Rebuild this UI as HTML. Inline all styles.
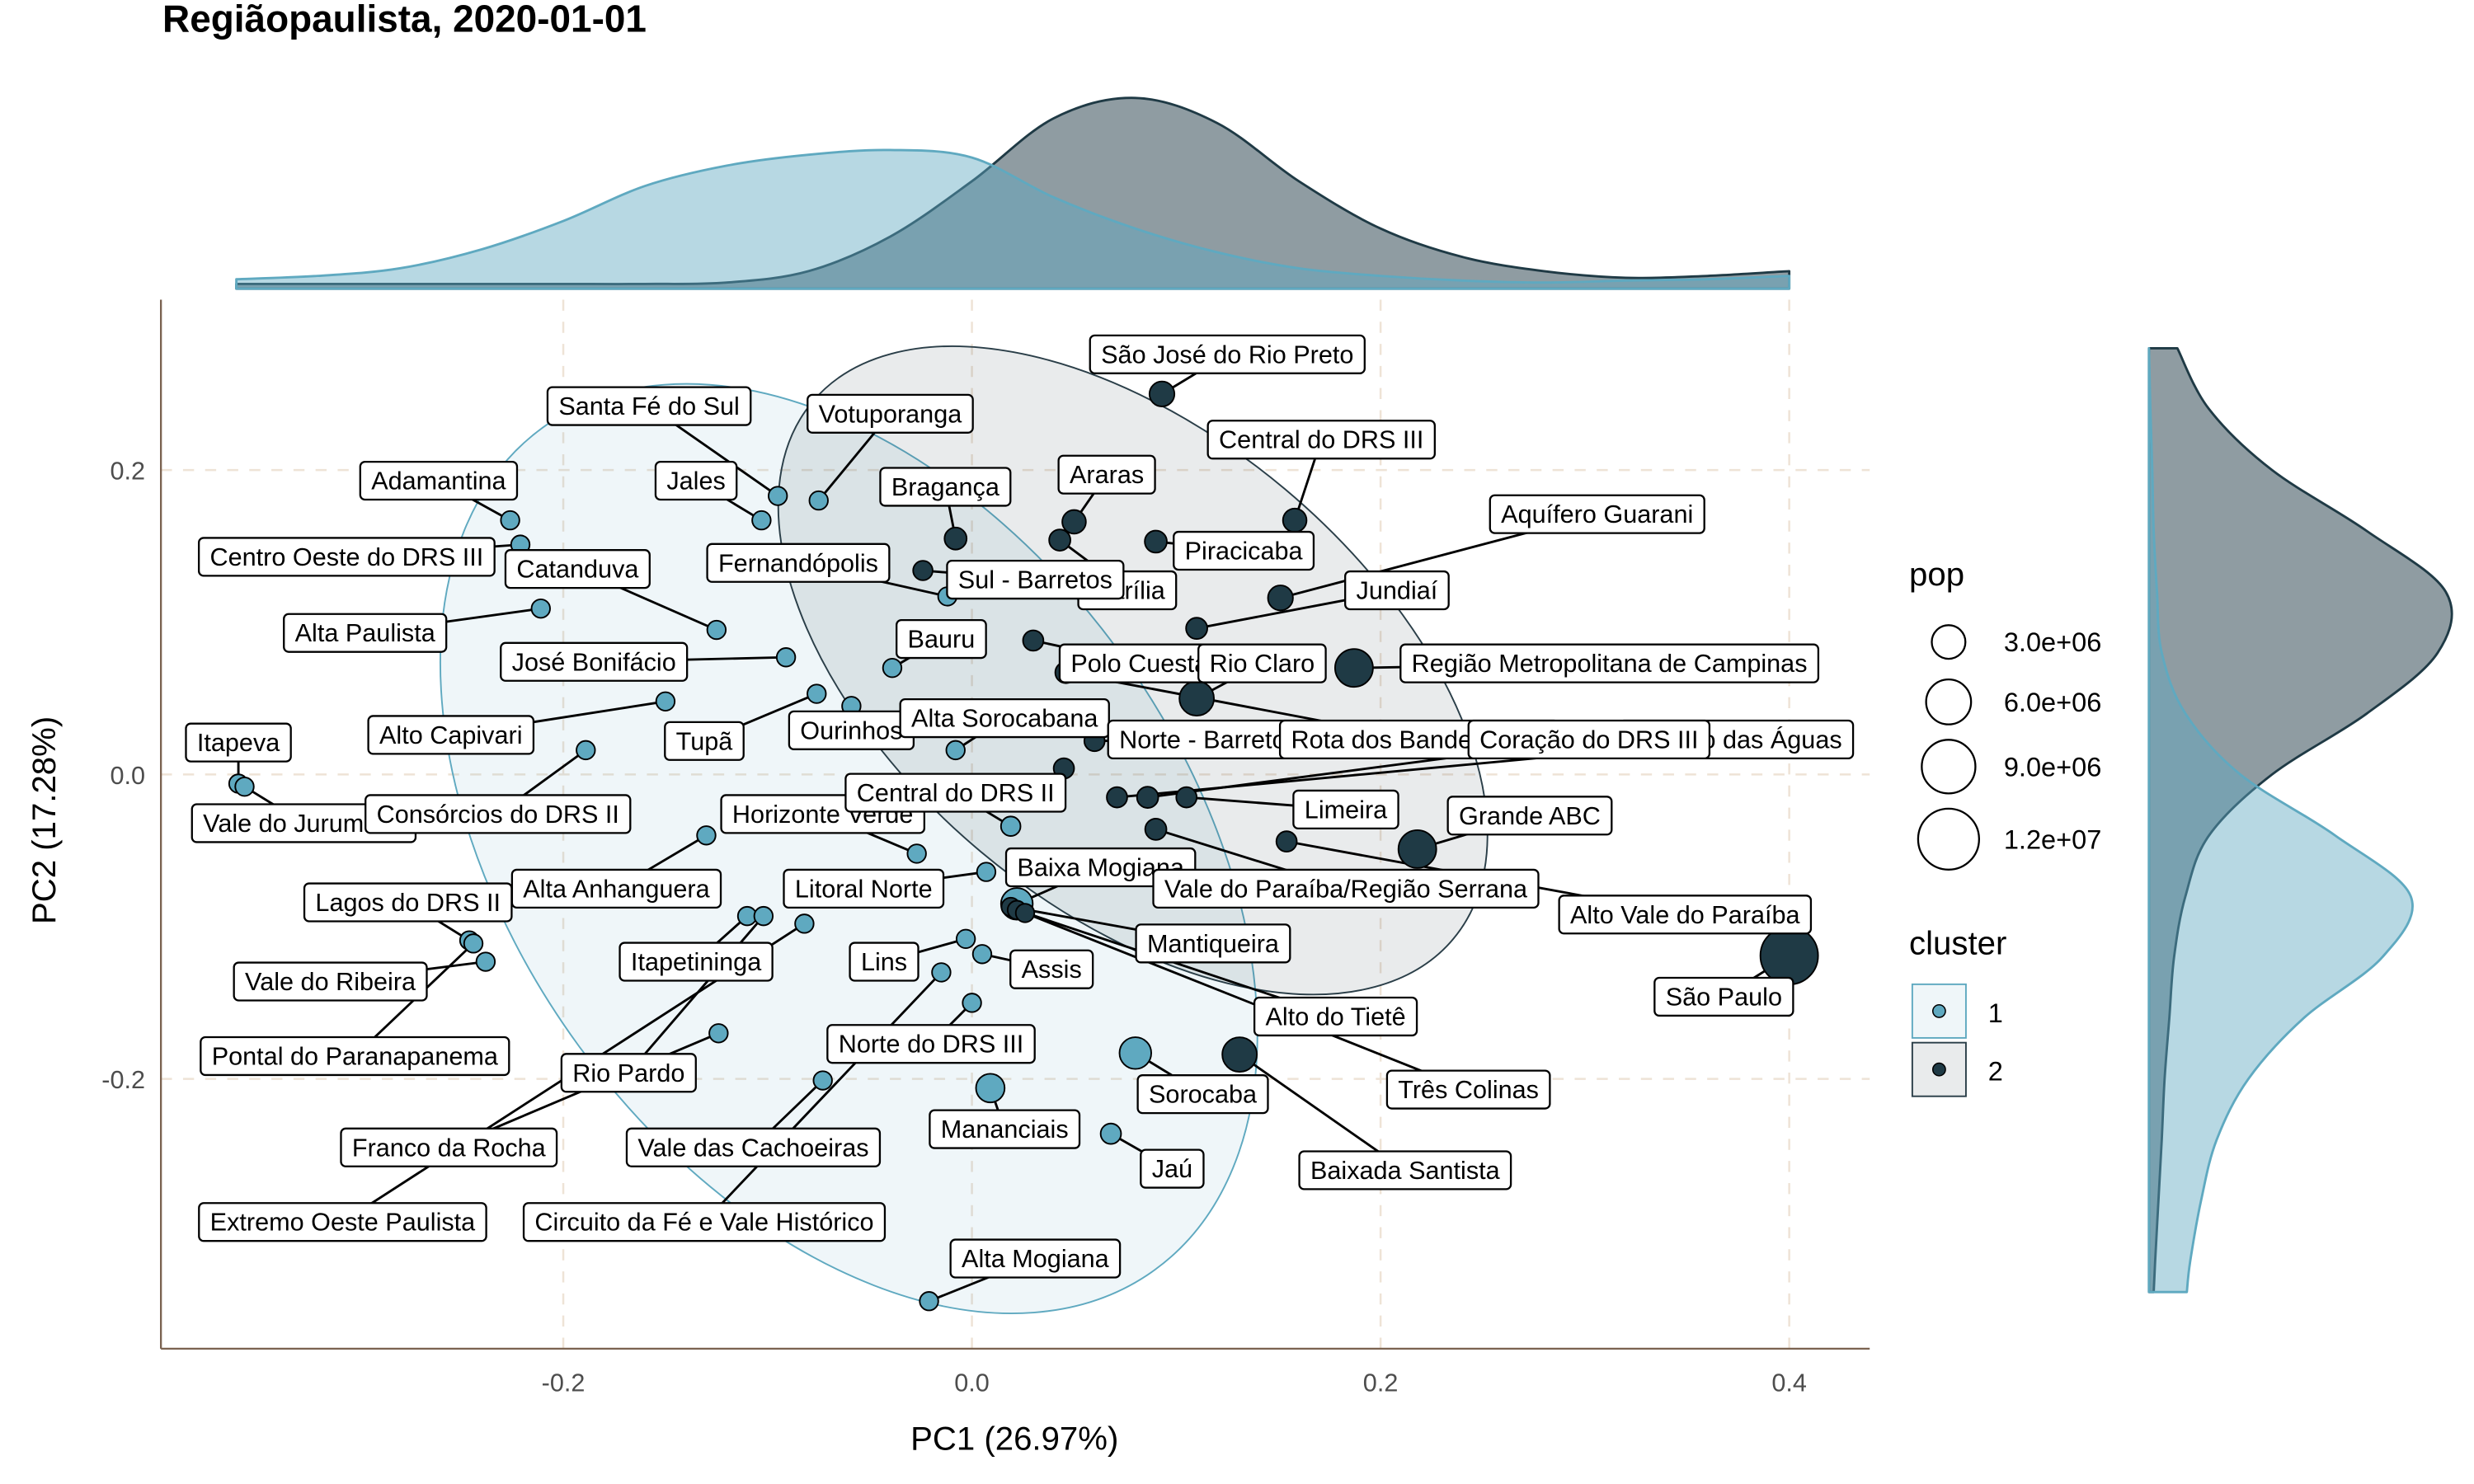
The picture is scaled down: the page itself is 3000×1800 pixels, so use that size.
<!DOCTYPE html>
<html><head><meta charset="utf-8"><style>
html,body{margin:0;padding:0;background:#fff;}
svg{display:block;font-family:"Liberation Sans",Arial,sans-serif;}
</style></head><body>
<svg id="chart" width="3000" height="1800" viewBox="0 0 1568 940.8" preserveAspectRatio="none" xmlns="http://www.w3.org/2000/svg">
<text x="103" y="20" font-size="24" font-weight="bold" fill="#000">Regiãopaulista, 2020-01-01</text>
<g id="topDens"></g>
<g id="rightDens"></g>
<g id="grid"></g>
<g id="ell">
<ellipse cx="538" cy="538" rx="330" ry="212" transform="rotate(54 538 538)" fill="rgba(95,169,192,0.1)" stroke="#5fa9c0" stroke-width="1"/>
<ellipse cx="718" cy="425" rx="265" ry="150" transform="rotate(40 718 425)" fill="rgba(38,55,65,0.1)" stroke="#2a3e48" stroke-width="1"/>
</g>
<g id="segs"></g>
<g id="pts"></g>
<g id="labs"></g>
<g id="axes">
<line x1="102" y1="190" x2="102" y2="855" stroke="#7a6250" stroke-width="1.2"/>
<line x1="102" y1="855" x2="1185" y2="855" stroke="#7a6250" stroke-width="1.2"/>
</g>
<text x="643" y="919" font-size="21" text-anchor="middle">PC1 (26.97%)</text>
<text transform="translate(35,520) rotate(-90)" font-size="21" text-anchor="middle">PC2 (17.28%)</text>
<g>
<text x="1210" y="371" font-size="21">pop</text>
<g id="popLeg"></g>
<text x="1210" y="605" font-size="21">cluster</text>
<rect x="1212" y="624" width="34" height="34" fill="rgba(95,169,192,0.1)" stroke="#5fa9c0"/>
<circle cx="1229" cy="641" r="4" fill="#5fa9c0" stroke="#000" stroke-width="0.8"/>
<text x="1260" y="648" font-size="17">1</text>
<rect x="1212" y="661" width="34" height="34" fill="rgba(38,55,65,0.1)" stroke="#2a3e48"/>
<circle cx="1229" cy="678" r="4" fill="#1f3a45" stroke="#000" stroke-width="0.8"/>
<text x="1260" y="685" font-size="17">2</text>
</g>
</svg>
<script>
const names=["Itapeva","Vale do Jurumirim","Adamantina","Centro Oeste do DRS III","Catanduva","Alta Paulista","José Bonifácio","Alto Capivari","Tupã","Ourinhos","Consórcios do DRS II","Santa Fé do Sul","Jales","Votuporanga","Bauru","Alta Sorocabana","Horizonte Verde","Central do DRS II","Alta Anhanguera","Lagos do DRS II","Litoral Norte","Vale do Ribeira","Itapetininga","Pontal do Paranapanema","Rio Pardo","Franco da Rocha","Vale das Cachoeiras","Extremo Oeste Paulista","Circuito da Fé e Vale Histórico","Lins","Assis","Norte do DRS III","Mananciais","Jaú","Sorocaba","Alta Mogiana","Baixa Mogiana","Fernandópolis",
"São José do Rio Preto","Central do DRS III","Araras","Bragança","Piracicaba","Aquífero Guarani","Jundiaí","Marília","Sul - Barretos","Região Metropolitana de Campinas","Polo Cuesta","Rio Claro","Norte - Barretos","Rota dos Bandeirantes","Circuito das Águas","Coração do DRS III","Limeira","Grande ABC","Vale do Paraíba/Região Serrana","Alto Vale do Paraíba","São Paulo","Mantiqueira","Alto do Tietê","Três Colinas","Baixada Santista",""];
const pc1=[-0.359,-0.356,-0.226,-0.221,-0.125,-0.211,-0.091,-0.150,-0.076,-0.059,-0.189,-0.095,-0.103,-0.075,-0.039,-0.008,-0.027,0.019,-0.130,-0.246,0.007,-0.238,-0.110,-0.244,-0.102,-0.124,-0.073,-0.082,-0.015,-0.003,0.005,0.000,0.009,0.068,0.080,-0.021,0.022,-0.012,
0.093,0.158,0.050,-0.008,0.090,0.151,0.110,0.043,-0.024,0.187,0.030,0.110,0.060,0.046,0.071,0.086,0.105,0.218,0.090,0.154,0.400,0.019,0.022,0.026,0.131,0.045];
const pc2=[-0.006,-0.008,0.167,0.151,0.095,0.109,0.077,0.048,0.053,0.045,0.016,0.183,0.167,0.180,0.070,0.016,-0.052,-0.034,-0.040,-0.109,-0.064,-0.123,-0.093,-0.111,-0.093,-0.170,-0.201,-0.098,-0.130,-0.108,-0.118,-0.150,-0.206,-0.236,-0.183,-0.346,-0.085,0.117,
0.250,0.167,0.166,0.155,0.153,0.116,0.096,0.154,0.134,0.070,0.088,0.050,0.022,0.067,-0.015,-0.015,-0.015,-0.049,-0.036,-0.044,-0.119,-0.087,-0.089,-0.091,-0.184,0.004];
const cluster=[1,1,1,1,1,1,1,1,1,1,1,1,1,1,1,1,1,1,1,1,1,1,1,1,1,1,1,1,1,1,1,1,1,1,1,1,1,1,
2,2,2,2,2,2,2,2,2,2,2,2,2,2,2,2,2,2,2,2,2,2,2,2,2,2];
const pop=[0.6,0.6,0.6,0.6,0.6,0.6,0.6,0.6,0.6,0.6,0.6,0.6,0.6,0.6,0.6,0.6,0.6,0.7,0.6,0.6,0.6,0.6,0.6,0.6,0.6,0.6,0.6,0.6,0.6,0.6,0.6,0.6,2.0,0.8,2.6,0.6,2.6,0.6,
1.4,1.2,1.2,1.0,1.0,1.4,0.9,0.9,0.7,4.0,0.8,3.2,0.8,0.9,0.8,0.9,0.8,4.0,0.9,0.8,10.6,0.6,0.6,0.6,3.2,0.8];
const labPc1=[-0.359,-0.327,-0.261,-0.306,-0.193,-0.297,-0.185,-0.255,-0.131,-0.059,-0.232,-0.158,-0.135,-0.040,-0.015,0.016,-0.073,-0.008,-0.174,-0.276,-0.053,-0.314,-0.135,-0.302,-0.168,-0.256,-0.107,-0.308,-0.131,-0.043,0.039,-0.020,0.016,0.098,0.113,0.031,0.063,-0.085,
0.125,0.171,0.066,-0.013,0.133,0.306,0.208,0.076,0.031,0.312,0.082,0.142,0.116,0.219,0.374,0.302,0.183,0.273,0.183,0.349,0.368,0.118,0.178,0.243,0.212,null];
const labPc2=[0.021,-0.032,0.193,0.143,0.135,0.093,0.074,0.026,0.022,0.029,-0.026,0.242,0.193,0.237,0.089,0.037,-0.026,-0.012,-0.075,-0.084,-0.075,-0.136,-0.123,-0.185,-0.196,-0.245,-0.245,-0.294,-0.294,-0.123,-0.128,-0.177,-0.233,-0.259,-0.210,-0.318,-0.061,0.139,
0.276,0.220,0.197,0.189,0.147,0.171,0.121,0.121,0.128,0.073,0.073,0.073,0.023,0.023,0.023,0.023,-0.023,-0.027,-0.075,-0.092,-0.146,-0.111,-0.159,-0.207,-0.260,null];
const xTicks=[-0.2,0.0,0.2,0.4];
const yTicks=[-0.2,0.0,0.2];
const xTickLabels=["-0.2","0.0","0.2","0.4"];
const yTickLabels=["-0.2","0.0","0.2"];
const densGridX=[-0.36,-0.32,-0.28,-0.24,-0.20,-0.16,-0.12,-0.08,-0.04,0,0.04,0.08,0.12,0.16,0.20,0.24,0.28,0.32,0.36,0.40];
const densXc1=[0.2,0.27,0.43,0.83,1.43,2.17,2.6,2.83,2.93,2.77,1.93,1.27,0.77,0.43,0.27,0.17,0.13,0.17,0.2,0.27];
const densXc2=[0.1,0.1,0.1,0.1,0.1,0.1,0.13,0.37,1.1,2.27,3.6,4.03,3.5,2.27,1.27,0.67,0.37,0.23,0.27,0.37];
const densGridY=[0.28,0.24,0.20,0.16,0.12,0.08,0.04,0,-0.04,-0.08,-0.12,-0.16,-0.20,-0.24,-0.28,-0.32,-0.34];
const densYc1=[0,0.03,0.07,0.1,0.17,0.27,0.77,1.93,3.93,5.53,4.93,3.27,2.1,1.43,1.1,0.87,0.8];
const densYc2=[0.6,1.27,2.6,4.6,6.27,6.1,4.6,2.6,1.27,0.77,0.53,0.43,0.33,0.27,0.2,0.13,0.1];
const popLegVals=[3e6,6e6,9e6,1.2e7];
const popLegLabels=["3.0e+06","6.0e+06","9.0e+06","1.2e+07"];

const NS="http://www.w3.org/2000/svg";
const X=v=>616+v*1295, Y=v=>491-v*965;
const R=p=>2+Math.sqrt(p*1e6)*0.005;
const col={1:"#5fa9c0",2:"#1f3a45"};
function mk(t,a,parent){const e=document.createElementNS(NS,t);for(const k in a)e.setAttribute(k,a[k]);parent.appendChild(e);return e;}
const g=id=>document.getElementById(id);
function smooth(p){let d="M"+p[0][0]+","+p[0][1];for(let i=0;i<p.length-1;i++){const p0=p[Math.max(i-1,0)],p1=p[i],p2=p[i+1],p3=p[Math.min(i+2,p.length-1)];
const c1=[p1[0]+(p2[0]-p0[0])/6,p1[1]+(p2[1]-p0[1])/6],c2=[p2[0]-(p3[0]-p1[0])/6,p2[1]-(p3[1]-p1[1])/6];
d+=" C"+c1+" "+c2+" "+p2;}return d;}

xTicks.forEach((t,i)=>{
  const l=mk('line',{x1:X(t),x2:X(t),y1:190,y2:855,stroke:"#eee3d6","stroke-width":1.3,"stroke-dasharray":"7,7"},g('grid'));
  
  
  const tl=mk('text',{x:X(t),y:882,"font-size":16,"text-anchor":"middle",fill:"#4d4d4d"},g('grid'));
  tl.textContent=xTickLabels[i];
  
  
});
yTicks.forEach((t,i)=>{
  const l=mk('line',{x1:102,x2:1185,y1:Y(t),y2:Y(t),stroke:"#eee3d6","stroke-width":1.3,"stroke-dasharray":"7,7"},g('grid'));
  
  
  const tl=mk('text',{x:92,y:Y(t)+6,"font-size":16,"text-anchor":"end",fill:"#4d4d4d"},g('grid'));
  tl.textContent=yTickLabels[i];
  
  
});

function topPath(vals){const p=densGridX.map((x,i)=>[X(x),183-vals[i]*30]);return smooth(p)+" L"+X(densGridX[densGridX.length-1])+",183 L"+X(densGridX[0])+",183 Z";}
function rightPath(vals){const p=densGridY.map((y,i)=>[1362+vals[i]*30,Y(y)]);return smooth(p)+" L1362,"+Y(densGridY[densGridY.length-1])+" L1362,"+Y(densGridY[0])+" Z";}
[[densXc2,2],[densXc1,1]].forEach(([v,c])=>{
  const p=mk('path',{d:topPath(v),fill:col[c],"fill-opacity":c==1?0.45:0.5,stroke:col[c],"stroke-width":1.5,"stroke-linejoin":"round"},g('topDens'));
  
  
});
[[densYc2,2],[densYc1,1]].forEach(([v,c])=>{
  const p=mk('path',{d:rightPath(v),fill:col[c],"fill-opacity":c==1?0.45:0.5,stroke:col[c],"stroke-width":1.5,"stroke-linejoin":"round"},g('rightDens'));
  
  
});

names.forEach((n,i)=>{
  if(n&&labPc1[i]!==null){
    const s=mk('line',{x1:X(pc1[i]),y1:Y(pc2[i]),x2:X(labPc1[i]),y2:Y(labPc2[i]),stroke:"#000","stroke-width":1.5},g('segs'));
    
    
  }
});
names.forEach((n,i)=>{
  const c=mk('circle',{cx:X(pc1[i]),cy:Y(pc2[i]),r:R(pop[i]),fill:col[cluster[i]],stroke:"#000","stroke-width":1},g('pts'));
  
  
});
names.forEach((n,i)=>{
  if(!n||labPc1[i]===null)return;
  const gg=mk('g',{},g('labs'));
  
  
  const cx=X(labPc1[i]),cy=Y(labPc2[i]);
  const r=mk('rect',{x:0,y:cy-12,width:10,height:24,rx:3,fill:"#fff",stroke:"#000","stroke-width":1.2},gg);
  const t=mk('text',{x:cx,y:cy+5.5,"font-size":16,"text-anchor":"middle"},gg);
  t.textContent=n;
  const w=t.getComputedTextLength()+14;
  r.setAttribute('x',cx-w/2);r.setAttribute('width',w);
});
const legY=[407,445,486,532];
popLegVals.forEach((v,i)=>{
  const c=mk('circle',{cx:1235,cy:legY[i],r:R(v/1e6),fill:"none",stroke:"#000","stroke-width":1.2},g('popLeg'));
  
  
  const t=mk('text',{x:1270,y:legY[i]+6,"font-size":17},g('popLeg'));
  t.textContent=popLegLabels[i];
  
  
});
</script>
</body></html>
